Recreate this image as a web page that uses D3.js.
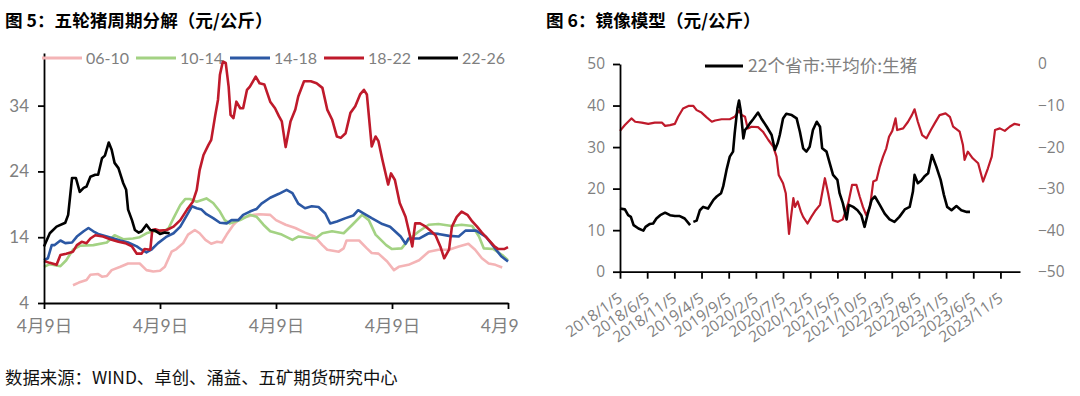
<!DOCTYPE html>
<html>
<head>
<meta charset="utf-8">
<script src="https://cdn.jsdelivr.net/npm/d3@7"></script>
<style>
  body { margin: 0; background: #fff; }
  svg text { font-family: Lato, "Noto Sans CJK SC", sans-serif; }
</style>
</head>
<body>
<svg id="chart" width="1080" height="396"></svg>
<script>
// ---- left panel: five hog cycles, x = months from 4月9日 ----
var cycleNames = ["06-10", "10-14", "14-18", "18-22", "22-26"];
var cycleColors = ["#f4b4b6", "#a3d283", "#2c58a4", "#bf1a2b", "#000000"];
var leftXLabels = ["4月9日", "4月9日", "4月9日", "4月9日", "4月9日"];
var leftYTicks = [4, 14, 24, 34];

var c0610 = [[3.0,6.7],[3.6,7.1],[4.4,7.5],[4.8,8.3],[5.6,8.4],[6.0,8.0],[6.5,8.1],[7.0,9.0],[7.9,9.5],[8.7,10.0],[9.9,10.0],[10.6,9.0],[11.3,8.8],[12.0,8.9],[12.5,9.5],[13.2,11.8],[13.7,12.2],[14.4,13.1],[14.9,14.4],[15.6,15.1],[16.1,14.6],[16.7,13.6],[17.3,13.0],[17.9,13.3],[18.4,13.2],[18.9,14.4],[19.6,15.9],[20.3,16.9],[21.0,17.1],[21.7,17.4],[22.3,17.5],[23.4,17.4],[24.0,16.6],[25.0,15.9],[26.0,15.4],[27.0,14.7],[28.0,14.1],[28.8,12.8],[29.3,12.1],[30.5,11.8],[31.0,12.3],[31.3,13.5],[32.6,13.5],[33.4,12.3],[33.9,11.6],[34.6,11.5],[35.5,10.3],[36.2,9.0],[36.7,9.5],[37.7,9.8],[38.8,10.5],[39.8,11.8],[40.8,12.1],[41.9,12.1],[42.9,12.6],[43.9,13.0],[44.6,12.1],[45.3,10.8],[46.0,10.0],[46.7,9.8],[47.4,9.4]];

var c1014 = [[0,9.5],[0.6,9.9],[1.7,9.6],[2.3,10.5],[3.0,12.1],[3.7,12.7],[5.1,12.8],[6.5,13.2],[7.3,14.3],[8.2,13.7],[9.2,13.8],[9.9,14.0],[10.6,14.6],[11.3,14.9],[12.2,14.7],[12.9,15.4],[13.4,16.9],[14.1,18.9],[14.6,19.8],[15.1,19.8],[15.8,19.4],[16.8,19.9],[17.5,19.2],[18.2,17.9],[18.7,16.6],[19.2,16.1],[20.3,16.6],[21.3,17.4],[22.0,17.1],[22.7,15.9],[23.4,14.9],[24.6,14.4],[25.7,13.6],[26.3,14.1],[28.1,13.8],[28.8,14.6],[29.8,14.9],[31.0,14.6],[31.9,15.9],[32.9,17.4],[33.6,16.6],[34.3,14.4],[35.4,12.8],[36.0,12.2],[37.0,12.3],[37.7,13.6],[38.8,14.9],[39.8,15.9],[40.8,16.0],[42.2,15.7],[43.2,15.9],[44.3,15.7],[45.0,14.1],[45.5,12.3],[46.5,12.2],[47.4,11.3],[48.0,10.5]];

var c1418 = [[0,10.5],[0.4,10.8],[0.8,12.8],[1.1,12.8],[1.7,13.5],[2.2,13.1],[2.9,13.2],[3.4,14.1],[4.1,14.9],[4.6,15.4],[5.1,14.9],[5.6,14.5],[6.5,14.1],[7.2,13.8],[7.9,13.5],[8.7,13.2],[9.6,12.6],[10.1,12.1],[10.6,11.7],[11.1,12.1],[11.8,13.1],[12.7,14.1],[13.4,14.6],[14.1,15.6],[14.8,17.4],[15.3,18.7],[15.8,18.4],[16.3,18.2],[16.8,17.5],[17.5,16.9],[18.2,16.2],[18.9,16.1],[19.4,16.6],[20.1,16.6],[20.6,17.4],[21.3,17.9],[22.0,18.3],[22.5,19.1],[23.4,20.0],[24.3,20.6],[25.1,21.2],[25.7,20.7],[26.3,19.1],[27.0,18.4],[27.7,18.7],[28.4,18.6],[29.1,17.6],[29.6,16.1],[30.3,16.4],[31.2,16.9],[32.0,17.3],[32.5,18.1],[33.1,17.6],[33.9,16.9],[35.0,16.0],[35.8,15.6],[36.9,14.1],[37.4,13.0],[37.7,13.8],[38.8,13.8],[39.8,14.6],[40.8,14.5],[41.9,14.2],[42.9,14.1],[43.6,15.0],[44.7,15.0],[45.7,14.1],[46.4,12.8],[47.3,11.1],[48.0,10.3]];

var c1822 = [[0,10.4],[0.6,10.1],[1.3,9.8],[1.7,11.3],[2.3,11.5],[3.0,11.8],[3.4,12.8],[3.9,13.3],[4.4,13.1],[4.8,13.8],[5.3,14.3],[6.1,14.1],[7.0,13.6],[7.7,13.3],[8.4,13.1],[9.1,12.6],[9.6,11.5],[10.1,11.5],[10.4,12.2],[11.0,12.1],[11.2,15.1],[11.5,15.2],[12.0,15.0],[12.7,15.1],[13.4,15.6],[14.1,16.6],[14.8,18.2],[15.4,19.4],[15.8,21.2],[16.1,24.2],[16.5,26.5],[17.0,28.0],[17.3,28.8],[17.7,32.4],[18.0,34.9],[18.2,38.7],[18.5,40.7],[18.8,40.5],[19.1,36.9],[19.3,32.6],[19.6,32.1],[19.9,34.6],[20.3,33.6],[20.6,33.6],[21.0,36.4],[21.3,36.9],[21.9,38.4],[22.3,37.4],[22.8,37.2],[23.4,34.6],[23.9,33.6],[24.3,32.4],[24.6,31.6],[25.0,27.7],[25.5,31.6],[26.0,33.4],[26.3,35.4],[26.9,37.7],[27.6,37.7],[28.2,37.4],[28.8,36.7],[29.3,33.4],[29.8,31.9],[30.3,29.3],[30.7,29.1],[31.2,29.8],[31.7,32.9],[32.2,33.9],[32.7,35.7],[33.1,36.4],[33.4,35.7],[33.9,27.8],[34.3,29.3],[34.6,28.6],[35.0,25.8],[35.6,22.0],[35.9,23.7],[36.3,22.7],[36.8,19.2],[37.4,17.1],[37.8,14.6],[38.1,12.6],[38.4,16.1],[38.9,16.1],[39.4,15.7],[39.9,15.1],[40.5,14.3],[41.0,12.6],[41.4,10.8],[41.9,12.1],[42.2,15.6],[42.7,17.1],[43.2,17.9],[43.8,17.4],[44.3,16.4],[44.8,15.6],[45.3,14.7],[46.0,13.6],[46.6,12.6],[47.0,12.2],[47.6,12.2],[48.0,12.5]];

var c2226 = [[0,12.6],[0.6,14.6],[1.3,15.6],[2.2,16.2],[2.5,17.4],[2.9,23.0],[3.3,23.0],[3.7,20.9],[4.1,21.5],[4.4,21.7],[4.8,23.2],[5.3,23.5],[5.6,23.5],[6.0,26.0],[6.3,26.4],[6.7,28.4],[7.0,27.3],[7.3,25.3],[7.7,24.5],[8.2,22.2],[8.5,21.2],[8.7,18.2],[9.1,16.6],[9.4,15.1],[9.8,14.7],[10.1,14.9],[10.6,15.9],[11.0,15.1],[11.5,15.0],[12.0,14.5],[12.5,14.7],[13.0,14.6]];

var cycles = [c0610, c1014, c1418, c1822, c2226];

// ---- right panel: mirror model, x = months from 2018/1/5 ----
var rightXLabels = ["2018/1/5","2018/6/5","2018/11/5","2019/4/5","2019/9/5","2020/2/5","2020/7/5","2020/12/5","2021/5/5","2021/10/5","2022/3/5","2022/8/5","2023/1/5","2023/6/5","2023/11/5"];
var rightXTicks = [0,5,10,15,20,25,30,35,40,45,50,55,60,65,70];
var leftAxisTicks = [0, 10, 20, 30, 40, 50];
var rightAxisTicks = [0, -10, -20, -30, -40, -50];

// 22个省市:平均价:生猪 (left axis); null = gap
var hogPrice = [[0,15.2],[0.9,15.0],[1.5,13.6],[2.0,13.2],[2.5,11.2],[3.4,10.4],[4.3,9.9],[4.7,10.8],[5.5,11.5],[6.1,11.6],[6.7,12.8],[7.4,13.6],[8.3,14.2],[9.2,13.6],[10.1,13.4],[11.0,13.4],[11.9,12.8],[12.9,11.2],[13.2,null],[13.5,12.0],[14.1,12.3],[14.7,14.8],[15.3,15.6],[16.2,15.2],[17.2,17.3],[17.8,18.1],[18.6,18.9],[19.0,20.6],[19.6,24.5],[20.2,27.7],[20.8,28.9],[21.1,33.3],[21.6,39.3],[21.9,41.2],[22.2,38.9],[22.7,32.1],[23.0,34.1],[23.5,34.9],[23.9,35.7],[24.5,36.7],[25.4,38.3],[26.0,36.9],[27.0,34.9],[27.9,32.9],[28.5,29.3],[29.0,30.9],[29.4,32.9],[30.0,36.9],[30.6,38.0],[31.6,37.7],[32.5,36.9],[33.1,33.7],[33.7,29.7],[34.3,28.9],[34.9,30.1],[35.5,34.1],[36.2,36.1],[36.8,34.9],[37.2,29.7],[38.0,28.9],[38.6,26.1],[39.2,23.3],[40.0,22.1],[40.4,18.9],[41.0,16.5],[41.7,12.6],[42.1,16.1],[42.9,15.6],[43.7,14.8],[44.4,13.6],[45.0,10.8],[45.6,14.0],[46.3,17.3],[46.9,18.1],[47.8,16.1],[48.7,14.0],[49.6,12.6],[50.5,12.0],[51.4,13.2],[52.4,15.0],[53.3,15.6],[53.9,19.3],[54.2,23.3],[54.8,21.3],[55.4,21.9],[56.0,22.9],[56.7,23.7],[57.4,28.1],[58.2,25.3],[59.0,22.1],[59.6,18.5],[60.2,15.6],[61.0,14.8],[61.9,15.8],[62.8,14.8],[63.8,14.4],[64.4,14.4]];

// mirror line (right axis)
var mirror = [[0,-16.1],[0.9,-14.7],[2.1,-13.1],[2.8,-13.9],[4.0,-14.1],[5.2,-14.4],[6.4,-14.1],[7.7,-14.1],[8.3,-14.9],[9.2,-14.7],[10.1,-14.4],[10.7,-12.7],[11.6,-10.7],[12.6,-10.1],[13.5,-10.1],[14.1,-11.1],[15.0,-11.7],[15.9,-12.8],[16.9,-13.9],[17.5,-13.6],[18.7,-13.3],[20.2,-13.3],[21.1,-12.7],[21.9,-11.2],[22.4,-12.3],[23.0,-12.7],[23.5,-15.5],[24.2,-15.1],[25.4,-15.2],[26.3,-16.3],[27.3,-18.3],[28.2,-19.9],[28.8,-22.3],[29.2,-26.7],[30.0,-28.7],[30.5,-31.1],[30.8,-36.0],[31.1,-40.9],[31.4,-37.6],[31.9,-32.3],[32.2,-34.4],[32.7,-33.1],[33.3,-35.6],[33.7,-36.8],[34.5,-38.4],[35.2,-36.8],[36.0,-35.2],[36.8,-33.9],[37.7,-27.5],[38.3,-31.1],[39.2,-37.6],[40.1,-38.0],[41.0,-37.4],[42.0,-33.5],[42.7,-29.1],[43.5,-29.1],[44.1,-31.9],[44.7,-34.4],[45.3,-36.4],[46.0,-34.4],[46.6,-28.3],[47.2,-27.9],[47.8,-24.7],[48.4,-22.3],[49.0,-20.3],[49.5,-17.5],[50.1,-16.1],[50.7,-13.1],[51.0,-15.9],[52.1,-15.5],[53.0,-13.9],[53.7,-12.3],[54.2,-10.9],[54.8,-13.9],[55.6,-17.1],[56.4,-17.9],[57.2,-15.9],[57.9,-14.3],[58.8,-12.3],[59.9,-11.9],[60.7,-12.7],[61.3,-15.1],[62.5,-16.3],[63.1,-19.5],[63.4,-23.1],[64.0,-21.1],[64.9,-22.7],[65.9,-23.9],[66.8,-28.3],[67.7,-25.1],[68.4,-22.3],[69.0,-15.9],[69.9,-15.5],[70.8,-16.1],[71.7,-15.1],[72.6,-14.4],[73.6,-14.7]];

var svg = d3.select("#chart");
var grey = "#7f7f7f";

// titles + source
svg.append("text").attr("x", 5).attr("y", 27)
	.style("font-family", "'Noto Sans CJK SC'").style("font-weight", "bold").style("font-size", "17.6px")
	.text("图 5：五轮猪周期分解（元/公斤）");
svg.append("text").attr("x", 546).attr("y", 27)
	.style("font-family", "'Noto Sans CJK SC'").style("font-weight", "bold").style("font-size", "17.6px")
	.text("图 6：镜像模型（元/公斤）");
svg.append("text").attr("x", 5).attr("y", 384)
	.style("font-family", "'Noto Sans CJK SC'").style("font-size", "17.4px").attr("fill", "#111")
	.text("数据来源：WIND、卓创、涌益、五矿期货研究中心");

// ================= left panel =================
svg.append("clipPath").attr("id", "leftclip")
	.append("rect").attr("x", 0).attr("y", 0).attr("width", 521).attr("height", 396);
var gl = svg.append("g").attr("clip-path", "url(#leftclip)");

var xl = d3.scaleLinear().domain([0, 48]).range([44, 508]);
var yl = d3.scaleLinear().domain([4, 42]).range([303, 53]);

var line = d3.line()
	.defined(function (d) { return d[1] != null; })
	.x(function (d) { return xl(d[0]); })
	.y(function (d) { return yl(d[1]); });

cycles.forEach(function (s, i) {
	gl.append("path").datum(s)
		.attr("fill", "none")
		.attr("stroke", cycleColors[i])
		.attr("stroke-width", 2.6)
		.attr("stroke-linejoin", "round")
		.attr("d", line);
});

var yAxisL = gl.append("g").attr("transform", "translate(44,0)")
	.call(d3.axisLeft(yl).tickValues(leftYTicks).tickSize(6).tickSizeOuter(0).tickPadding(9));
var xAxisL = gl.append("g").attr("transform", "translate(0,303)")
	.call(d3.axisBottom(xl).tickValues([0, 12, 24, 36, 48]).tickSize(6).tickSizeOuter(0).tickPadding(11)
		.tickFormat(function (d, i) { return leftXLabels[i]; }));
[yAxisL, xAxisL].forEach(function (a) {
	a.select(".domain").attr("stroke", "#000").attr("stroke-width", 1.8);
	a.selectAll(".tick line").attr("stroke", "#000").attr("stroke-width", 1.8);
	a.selectAll("text").attr("fill", grey).style("font-size", "17px");
});
xAxisL.selectAll("text").style("font-size", "17.5px");

// legend
var legX = [42, 136, 230, 324, 418];
cycleNames.forEach(function (n, i) {
	gl.append("line").attr("x1", legX[i]).attr("x2", legX[i] + 40)
		.attr("y1", 58).attr("y2", 58)
		.attr("stroke", cycleColors[i]).attr("stroke-width", 2.8);
	gl.append("text").attr("x", legX[i] + 44).attr("y", 64)
		.attr("fill", grey).style("font-size", "16px").text(n);
});

// ================= right panel =================
var xr = d3.scaleLinear().domain([0, 73.6]).range([620, 1020]);
var yr1 = d3.scaleLinear().domain([0, 50]).range([271.7, 64]);
var yr2 = d3.scaleLinear().domain([-50, 0]).range([271.7, 64]);

var lineR1 = d3.line()
	.defined(function (d) { return d[1] != null; })
	.x(function (d) { return xr(d[0]); })
	.y(function (d) { return yr1(d[1]); });
var lineR2 = d3.line()
	.x(function (d) { return xr(d[0]); })
	.y(function (d) { return yr2(d[1]); });

svg.append("path").datum(mirror)
	.attr("fill", "none").attr("stroke", "#bf1a2b").attr("stroke-width", 2.2)
	.attr("stroke-linejoin", "round").attr("d", lineR2);
svg.append("path").datum(hogPrice)
	.attr("fill", "none").attr("stroke", "#000").attr("stroke-width", 2.6)
	.attr("stroke-linejoin", "round").attr("d", lineR1);

var yAxisR1 = svg.append("g").attr("transform", "translate(620,0)")
	.call(d3.axisLeft(yr1).tickValues(leftAxisTicks).tickSize(7).tickSizeOuter(0).tickPadding(8));
var yAxisR2 = svg.append("g").attr("transform", "translate(1020,0)")
	.call(d3.axisRight(yr2).tickValues(rightAxisTicks).tickSize(0).tickPadding(18));
yAxisR2.select(".domain").remove();
var xAxisR = svg.append("g").attr("transform", "translate(0,271.7)")
	.call(d3.axisBottom(xr).tickValues(rightXTicks).tickSize(7).tickSizeOuter(0)
		.tickFormat(function (d, i) { return rightXLabels[i]; }));
[yAxisR1, xAxisR].forEach(function (a) {
	a.select(".domain").attr("stroke", "#000").attr("stroke-width", 1.8);
	a.selectAll(".tick line").attr("stroke", "#000").attr("stroke-width", 1.8);
});
[yAxisR1, yAxisR2, xAxisR].forEach(function (a) {
	a.selectAll("text").attr("fill", grey).style("font-family", "'Open Sans'").style("font-size", "15.5px");
});
xAxisR.selectAll("text")
	.attr("text-anchor", "end")
	.attr("dy", "0.7em")
	.attr("transform", "translate(-9,12) rotate(-35)");

// legend
svg.append("line").attr("x1", 705).attr("x2", 743).attr("y1", 66).attr("y2", 66)
	.attr("stroke", "#000").attr("stroke-width", 2.8);
svg.append("text").attr("x", 748).attr("y", 72)
	.attr("fill", grey).style("font-family", "'Noto Sans CJK SC'").style("font-size", "17.5px")
	.text("22个省市:平均价:生猪");
</script>
</body>
</html>
